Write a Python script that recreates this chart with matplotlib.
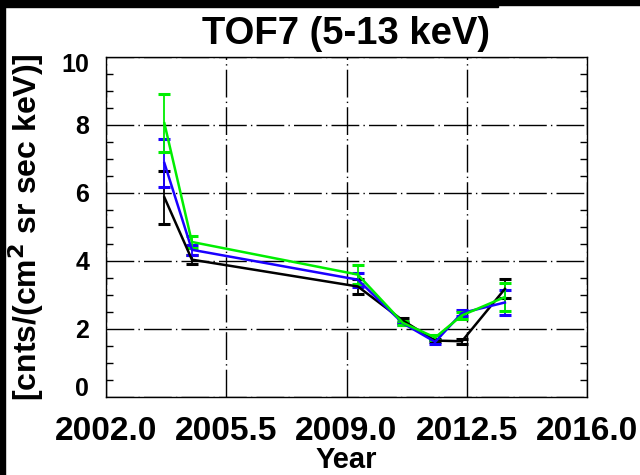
import numpy as np
import matplotlib
matplotlib.use("Agg")
import matplotlib.pyplot as plt
import matplotlib.transforms as mtransforms
from matplotlib.patches import Rectangle

plt.rcParams['font.family'] = ['Liberation Sans', 'DejaVu Sans']
plt.rcParams['font.weight'] = 'bold'
plt.rcParams['mathtext.default'] = 'bf'

# yearly averaged fluxes, TOF7 channel
years = [2003.7, 2004.5, 2009.33, 2010.64, 2011.58, 2012.36, 2013.61]

flux_black = [5.87, 4.04, 3.25, 2.25, 1.66, 1.64, 3.18]
err_black = [0.78, 0.13, 0.22, 0.06, 0.05, 0.08, 0.28]

flux_blue = [6.88, 4.33, 3.45, 2.17, 1.62, 2.47, 2.78]
err_blue = [0.70, 0.15, 0.20, 0.05, 0.06, 0.10, 0.37]

flux_green = [8.05, 4.56, 3.60, 2.18, 1.75, 2.40, 2.94]
err_green = [0.85, 0.18, 0.27, 0.06, 0.08, 0.10, 0.41]

x_ticks = [2002.0, 2005.5, 2009.0, 2012.5, 2016.0]
y_ticks = [0, 2, 4, 6, 8, 10]

fig = plt.figure(figsize=(6.4, 4.75), dpi=100)
ax = fig.add_axes([106 / 640, 1 - 397 / 475, 481 / 640, 340 / 475])

series = [
    (flux_black, err_black, 'black'),
    (flux_blue, err_blue, '#1a00ff'),
    (flux_green, err_green, '#00ee00'),
]
for flux, err, col in series:
    ax.errorbar(years, flux, yerr=err, color=col, linewidth=1.8,
                elinewidth=1.3, capsize=4.5, capthick=2.2)

ax.set_xlim(2002, 2016)
ax.set_ylim(0, 10)
ax.set_xticks(x_ticks)
ax.set_xticklabels([f"{v:.1f}" for v in x_ticks])
ax.set_yticks(y_ticks)
ax.set_yticks(np.arange(0, 10.01, 0.5), minor=True)

grid_style = (0, (20, 3, 1, 3))
ax.grid(True, which='major', color='black', linestyle=grid_style, linewidth=1.0)
ax.tick_params(axis='x', which='both', length=0, pad=14, labelsize=24)
ax.tick_params(axis='y', which='major', length=0, pad=12, labelsize=18)
ax.tick_params(axis='y', which='minor', direction='in', length=5,
               width=1, left=True, right=True)
for sp in ax.spines.values():
    sp.set_linewidth(1.0)

# nudge the end labels inside the axis range
fig.canvas.draw()
ylabels = ax.get_yticklabels()
ylabels[0].set_transform(ylabels[0].get_transform() +
                         mtransforms.ScaledTranslation(0, 11 / 100, fig.dpi_scale_trans))
ylabels[-1].set_transform(ylabels[-1].get_transform() +
                          mtransforms.ScaledTranslation(0, -6 / 100, fig.dpi_scale_trans))

ax.set_title("TOF7 (5-13 keV)", fontsize=27.5, fontweight='bold', pad=9)
ax.set_xlabel("Year", fontsize=21, fontweight='bold', va='center')
ax.xaxis.set_label_coords(0.5, -(460 - 397) / 340)
ax.set_ylabel(r"[cnts/(cm$^\mathbf{2}$ sr sec keV)]", fontsize=23,
              fontweight='bold', labelpad=11)

# dark frame edges along the top and left borders
fig.patches.append(Rectangle((0, 1 - 5 / 475), 1, 5 / 475, transform=fig.transFigure,
                             color='black', zorder=10))
fig.patches.append(Rectangle((0, 1 - 7 / 475), 498 / 640, 7 / 475, transform=fig.transFigure,
                             color='black', zorder=10))
fig.patches.append(Rectangle((0, 0), 5 / 640, 1, transform=fig.transFigure,
                             color='black', zorder=10))

fig.savefig("out.png", dpi=100)
